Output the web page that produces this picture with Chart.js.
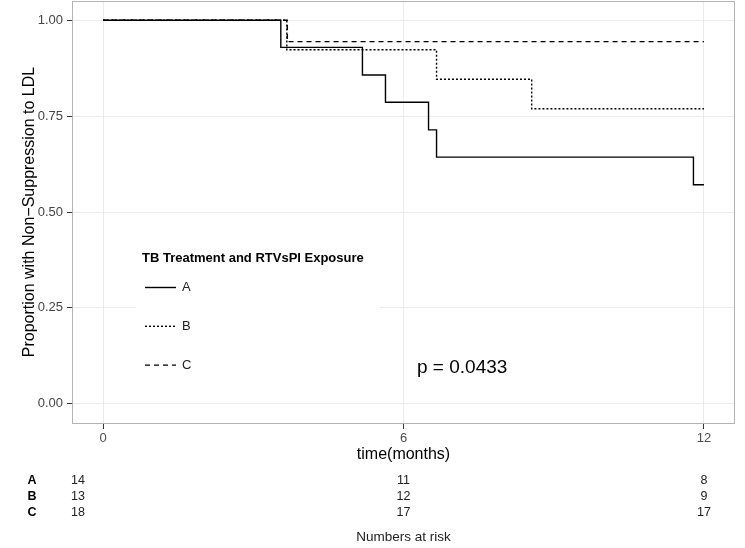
<!DOCTYPE html>
<html>
<head>
<meta charset="utf-8">
<script src="https://cdn.jsdelivr.net/npm/chart.js@4/dist/chart.umd.min.js"></script>
<style>
  html, body { margin: 0; padding: 0; background: #fff; }
  #c { display: block; }
</style>
</head>
<body>
<canvas id="c" width="745" height="548"></canvas>
<script>
// ---- data ----
const groups = ['A', 'B', 'C'];
const timesA = [0, 3.55, 5.18, 5.64, 6.50, 6.66, 11.79, 12];
const survA  = [1, 0.929, 0.857, 0.786, 0.714, 0.643, 0.571, 0.571];
const timesB = [0, 3.67, 6.66, 8.56, 12];
const survB  = [1, 0.923, 0.846, 0.769, 0.769];
const timesC = [0, 3.68, 12];
const survC  = [1, 0.944, 0.944];
const xTickValues = [0, 6, 12];
const yTickValues = [0, 0.25, 0.5, 0.75, 1];
const riskTimes = [0, 6, 12];
const riskA = [14, 11, 8];
const riskB = [13, 12, 9];
const riskC = [18, 17, 17];
const legendTitle = 'TB Treatment and RTVsPI Exposure';
const pText = 'p = 0.0433';
const xTitle = 'time(months)';
const yTitle = 'Proportion with Non\u2212Suppression to LDL';
const riskTitle = 'Numbers at risk';

const FONT = '"Liberation Sans", Arial, Helvetica, sans-serif';
const toPts = (t, s) => t.map((v, i) => ({ x: v, y: s[i] }));
const dashes = { A: [], B: [2, 2], C: [5, 4] };
const risk = { A: riskA, B: riskB, C: riskC };

const extras = {
  id: 'kmExtras',
  beforeDraw(chart) {
    const ctx = chart.ctx;
    ctx.save();
    ctx.fillStyle = '#ffffff';
    ctx.fillRect(0, 0, chart.width, chart.height);
    ctx.restore();
  },
  afterDraw(chart) {
    const ctx = chart.ctx;
    const ca = chart.chartArea;
    const xs = chart.scales.x;
    ctx.save();
    // legend background (inside the panel)
    ctx.fillStyle = '#ffffff';
    ctx.fillRect(136, 240, 244, 142);
    ctx.fillStyle = '#000';
    ctx.textBaseline = 'middle';
    ctx.textAlign = 'left';
    ctx.font = 'bold 13px ' + FONT;
    ctx.fillText(legendTitle, 142, 258);
    groups.forEach((g, i) => {
      const yy = 287.5 + i * 38.8;
      ctx.beginPath();
      ctx.setLineDash(dashes[g]);
      ctx.lineWidth = 1.4;
      ctx.strokeStyle = '#000';
      ctx.moveTo(145, yy);
      ctx.lineTo(176, yy);
      ctx.stroke();
      ctx.setLineDash([]);
      ctx.font = '13px ' + FONT;
      ctx.fillStyle = '#222';
      ctx.fillText(g, 182, yy);
    });
    // p-value
    ctx.fillStyle = '#000';
    ctx.font = '19px ' + FONT;
    ctx.fillText(pText, 417, 368);
    // panel border
    ctx.strokeStyle = '#b3b3b3';
    ctx.lineWidth = 1;
    ctx.strokeRect(Math.round(ca.left) - 0.5, Math.round(ca.top) + 0.5,
                   Math.round(ca.right - ca.left) + 1, Math.round(ca.bottom - ca.top));
    // risk table
    ctx.textAlign = 'center';
    groups.forEach((g, i) => {
      const yy = 481 + i * 16;
      ctx.font = 'bold 12.5px ' + FONT;
      ctx.fillStyle = '#000';
      ctx.fillText(g, 32, yy);
      ctx.font = '12.5px ' + FONT;
      ctx.fillStyle = '#222';
      risk[g].forEach((n, j) => {
        let px = xs.getPixelForValue(riskTimes[j]);
        if (j === 0) px -= 25;
        ctx.fillText(String(n), px, yy);
      });
    });
    ctx.font = '13.5px ' + FONT;
    ctx.fillStyle = '#222';
    ctx.fillText(riskTitle, xs.getPixelForValue(6), 537);
    ctx.restore();
  }
};

new Chart(document.getElementById('c'), {
  type: 'line',
  data: {
    datasets: [
      { label: 'A', data: toPts(timesA, survA), borderDash: dashes.A },
      { label: 'B', data: toPts(timesB, survB), borderDash: dashes.B },
      { label: 'C', data: toPts(timesC, survC), borderDash: dashes.C }
    ].map(d => Object.assign(d, {
      stepped: true, borderColor: '#000', borderWidth: 1.4,
      pointRadius: 0, fill: false, tension: 0
    }))
  },
  options: {
    responsive: false,
    animation: false,
    devicePixelRatio: 1,
    layout: { padding: { left: 0, top: 1, right: 11, bottom: 75 } },
    plugins: { legend: { display: false }, tooltip: { enabled: false } },
    scales: {
      x: {
        type: 'linear', min: -0.6, max: 12.6,
        afterBuildTicks: s => { s.ticks = xTickValues.map(v => ({ value: v })); },
        afterFit: s => { s.height = 50; s.paddingLeft = 0; s.paddingRight = 0; },
        grid: { color: '#ebebeb', lineWidth: 1, tickColor: '#333', tickLength: 6, drawTicks: true },
        border: { display: false },
        ticks: { font: { family: FONT, size: 13 }, color: '#4d4d4d', padding: 2, maxRotation: 0, autoSkip: false },
        title: { display: true, text: xTitle, color: '#000', font: { family: FONT, size: 16 }, padding: { top: 0, bottom: 9 } }
      },
      y: {
        min: -0.05, max: 1.05,
        afterBuildTicks: s => { s.ticks = yTickValues.map(v => ({ value: v })); },
        afterFit: s => { s.width = 73; s.paddingTop = 0; s.paddingBottom = 0; },
        grid: { color: '#ebebeb', lineWidth: 1, tickColor: '#333', tickLength: 6, drawTicks: true },
        border: { display: false },
        ticks: { font: { family: FONT, size: 13 }, color: '#444', padding: 4, callback: v => Number(v).toFixed(2) },
        title: { display: true, text: yTitle, color: '#000', font: { family: FONT, size: 16 }, padding: { top: 20, bottom: 0 } }
      }
    }
  },
  plugins: [extras]
});
</script>
</body>
</html>
